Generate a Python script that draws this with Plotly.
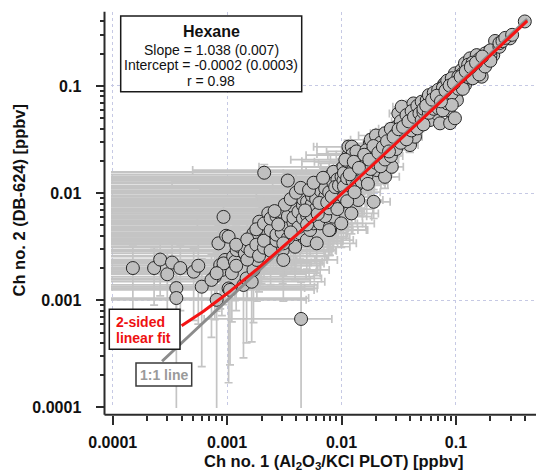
import plotly.graph_objects as go

FONT = "Liberation Sans, Arial, Helvetica, sans-serif"
W, H = 536, 474

# Hexane mixing ratios [ppbv] on channel 1 (Al2O3/KCl PLOT) and channel 2 (DB-624),
# with the 1-sigma uncertainty of each value, grouped by concentration range.

# lowest values, near the detection limit
low_ch1 = [0.00015, 0.00023, 0.00026, 0.00030, 0.00033, 0.00039, 0.00036, 0.00036, 0.00051, 0.00056,
           0.00060, 0.00093, 0.00084, 0.00078, 0.00073, 0.00081, 0.00087, 0.00090, 0.00096, 0.00093,
           0.00081]
low_ch2 = [0.0020, 0.0020, 0.0024, 0.00175, 0.00225, 0.0020, 0.0013, 0.00105, 0.00185, 0.0021,
           0.00134, 0.0060, 0.0034, 0.00166, 0.00155, 0.00101, 0.00213, 0.00192, 0.00238, 0.00221,
           0.00179]
low_ch1_err = [0.0035, 0.0042, 0.0038, 0.0046, 0.0051, 0.0036, 0.0044, 0.0048, 0.0055, 0.0047,
               0.0052, 0.0062, 0.0058, 0.0050, 0.0046, 0.0041, 0.0057, 0.0053, 0.0049, 0.0061,
               0.0044]
low_ch2_err = [0.0012, 0.0011, 0.0013, 0.0010, 0.0012, 0.0012, 0.0009, 0.0011, 0.0012, 0.0015,
               0.0011, 0.0022, 0.0016, 0.0010, 0.0011, 0.0011, 0.0013, 0.0012, 0.0014, 0.0013,
               0.0010]

# 1-3 pptv
ppt1_ch1 = [0.00098, 0.00103, 0.00110, 0.00103, 0.00106, 0.00113, 0.00117, 0.00121, 0.00130, 0.00139,
            0.00143, 0.00148, 0.00148, 0.00164, 0.00170, 0.00170, 0.00182, 0.00191, 0.00194, 0.00200,
            0.00211, 0.00222, 0.00229, 0.00229, 0.00254, 0.00254, 0.00271, 0.00290, 0.00306, 0.00310,
            0.0012, 0.0012, 0.0015, 0.0015, 0.0016, 0.0018, 0.0018, 0.0019, 0.0021, 0.0021,
            0.0021, 0.0024, 0.0024, 0.0024, 0.0027, 0.0027, 0.0027]
ppt1_ch2 = [0.00400, 0.00392, 0.00179, 0.00129, 0.00125, 0.00255, 0.00229, 0.00294, 0.00316, 0.00139,
            0.00274, 0.00316, 0.00160, 0.00149, 0.00192, 0.00422, 0.00238, 0.00541, 0.00284, 0.00294,
            0.01550, 0.00406, 0.00648, 0.00422, 0.00561, 0.00340, 0.00453, 0.00470, 0.00294, 0.00238,
            0.0021, 0.0033, 0.0024, 0.0037, 0.0029, 0.0033, 0.0046, 0.0026, 0.0031, 0.0036,
            0.0052, 0.0029, 0.0045, 0.0058, 0.0036, 0.0061, 0.0041]
ppt1_ch1_err = [0.0064, 0.0059, 0.0054, 0.0051, 0.0047, 0.0060, 0.0056, 0.0066, 0.0062, 0.0048,
                0.0058, 0.0070, 0.0052, 0.0055, 0.0061, 0.0068, 0.0057, 0.0074, 0.0063, 0.0069,
                0.0056, 0.0072, 0.0065, 0.0060, 0.0078, 0.0067, 0.0071, 0.0064, 0.0058, 0.0061,
                0.0053, 0.0065, 0.0059, 0.0071, 0.0054, 0.0067, 0.0075, 0.0058, 0.0062, 0.0070,
                0.0079, 0.0066, 0.0073, 0.0068, 0.0076, 0.0081, 0.0063]
ppt1_ch2_err = [0.0018, 0.0017, 0.00116, 0.00112, 0.0010, 0.0014, 0.0013, 0.0015, 0.0016, 0.0011,
                0.0014, 0.0016, 0.0012, 0.00108, 0.0013, 0.0019, 0.0014, 0.0021, 0.0015, 0.0015,
                0.0030, 0.0018, 0.0023, 0.0019, 0.0021, 0.0016, 0.0019, 0.0020, 0.0015, 0.0014,
                0.0013, 0.0016, 0.0014, 0.0017, 0.0015, 0.0016, 0.0020, 0.0014, 0.0015, 0.0017,
                0.0021, 0.0015, 0.0019, 0.0022, 0.0017, 0.0023, 0.0018]

# 3-10 pptv
ppt3_ch1 = [0.00321, 0.00332, 0.00339, 0.00355, 0.00367, 0.00379, 0.00393, 0.00406, 0.00419, 0.00434,
            0.00434, 0.00443, 0.00497, 0.00497, 0.00531, 0.00567, 0.00567, 0.00607, 0.00607, 0.00649,
            0.00694, 0.00743, 0.00743, 0.00793, 0.00793, 0.00848, 0.00848, 0.00908, 0.0097, 0.0097,
            0.00995, 0.0078,
            0.0030, 0.0030, 0.0030, 0.0034, 0.0034, 0.0034, 0.0038, 0.0038, 0.0038, 0.0042,
            0.0042, 0.0042, 0.0046, 0.0046, 0.0046, 0.0050, 0.0050, 0.0050, 0.0055, 0.0055,
            0.0055, 0.0060, 0.0060, 0.0060, 0.0066, 0.0066, 0.0066, 0.0072, 0.0072, 0.0072,
            0.0078, 0.0078, 0.0078, 0.0085, 0.0085, 0.0085, 0.0092, 0.0092, 0.0092,
            0.0032, 0.0036, 0.0040, 0.0044, 0.0048, 0.0052, 0.0057, 0.0062, 0.0064, 0.0069,
            0.0075, 0.0082, 0.0088, 0.0095, 0.0028, 0.0026, 0.0031, 0.0036]
ppt3_ch2 = [0.00582, 0.00352, 0.0131, 0.00470, 0.00671, 0.00392, 0.00316, 0.00804, 0.00830, 0.00453,
            0.00422, 0.00067, 0.0103, 0.00365, 0.00453, 0.00522, 0.00695, 0.00340, 0.00995, 0.00522,
            0.00804, 0.0128, 0.0137, 0.00453, 0.00486, 0.00603, 0.0107, 0.0148, 0.0080, 0.0164,
            0.00522, 0.00452,
            0.0043, 0.0055, 0.0067, 0.0049, 0.0061, 0.0038, 0.0053, 0.0075, 0.0059, 0.0048,
            0.0067, 0.0092, 0.0058, 0.0077, 0.0088, 0.0062, 0.0083, 0.0051, 0.0079, 0.0095,
            0.0061, 0.0072, 0.0116, 0.0088, 0.0068, 0.0105, 0.0127, 0.0093, 0.0111, 0.0061,
            0.0102, 0.0142, 0.0072, 0.0085, 0.0124, 0.0158, 0.0099, 0.0134, 0.0071,
            0.0078, 0.0088, 0.0101, 0.0112, 0.0069, 0.0107, 0.0125, 0.0064, 0.0081, 0.0139,
            0.0082, 0.0093, 0.0114, 0.0118, 0.0051, 0.0068, 0.0034, 0.0043]
ppt3_ch1_err = [0.0083, 0.0069, 0.0062, 0.0080, 0.0085, 0.0072, 0.0079, 0.0088, 0.0076, 0.0082,
                0.0070, 0.0038, 0.0090, 0.0077, 0.0086, 0.0081, 0.0093, 0.0074, 0.0095, 0.0088,
                0.0097, 0.0071, 0.0102, 0.0090, 0.0084, 0.0099, 0.0079, 0.0105, 0.0101, 0.0092,
                0.0094, 0.0087,
                0.0074, 0.0069, 0.0082, 0.0078, 0.0066, 0.0084, 0.0071, 0.0089, 0.0077, 0.0083,
                0.0075, 0.0091, 0.0086, 0.0079, 0.0094, 0.0080, 0.0096, 0.0073, 0.0088, 0.0082,
                0.0097, 0.0085, 0.0100, 0.0078, 0.0092, 0.0087, 0.0068, 0.0099, 0.0083, 0.0094,
                0.0104, 0.0090, 0.0088, 0.0098, 0.0108, 0.0094, 0.0100, 0.0111, 0.0096,
                0.0079, 0.0086, 0.0092, 0.0081, 0.0087, 0.0090, 0.0079, 0.0091, 0.0097, 0.0084,
                0.0101, 0.0095, 0.0103, 0.0099, 0.0072, 0.0083, 0.0068, 0.0074]
ppt3_ch2_err = [0.0022, 0.0017, 0.0028, 0.0019, 0.0024, 0.0018, 0.0016, 0.0026, 0.0026, 0.0019,
                0.0018, 0.0008, 0.0027, 0.0017, 0.0019, 0.0021, 0.0024, 0.0017, 0.0027, 0.0021,
                0.0025, 0.0030, 0.0031, 0.0019, 0.0020, 0.0022, 0.0028, 0.0032, 0.0025, 0.0033,
                0.0021, 0.0019,
                0.0019, 0.0021, 0.0024, 0.0020, 0.0023, 0.0018, 0.0021, 0.0025, 0.0022, 0.0020,
                0.0024, 0.0027, 0.0022, 0.0025, 0.0026, 0.0022, 0.0026, 0.0020, 0.0025, 0.0027,
                0.0022, 0.0024, 0.0029, 0.0026, 0.0023, 0.0028, 0.0030, 0.0026, 0.0029, 0.0022,
                0.0028, 0.0031, 0.0024, 0.0025, 0.0030, 0.0033, 0.0027, 0.0031, 0.0024,
                0.0025, 0.0026, 0.0028, 0.0029, 0.0024, 0.0028, 0.0030, 0.0023, 0.0025, 0.0031,
                0.0025, 0.0026, 0.0029, 0.0029, 0.0020, 0.0024, 0.0017, 0.0019]

# 10-50 pptv
ppt10_ch1 = [0.0100, 0.0104, 0.0104, 0.0111, 0.0115, 0.0115, 0.0119, 0.0122, 0.0123, 0.0140,
             0.0145, 0.0145, 0.0155, 0.0177, 0.0184, 0.0191, 0.0203, 0.0217, 0.0232, 0.0232,
             0.0240, 0.0257, 0.0265, 0.0275, 0.0294, 0.0304, 0.0314, 0.0336, 0.0359, 0.0372,
             0.0397, 0.0425, 0.0439, 0.0454, 0.0469,
             0.0105, 0.0105, 0.0105, 0.0112, 0.0112, 0.0112, 0.0125, 0.0125, 0.0125, 0.0135,
             0.0135, 0.0135, 0.0150, 0.0150, 0.0150, 0.0165, 0.0165, 0.0165, 0.0180, 0.0180,
             0.0180, 0.0200, 0.0200, 0.0200, 0.0220, 0.0220, 0.0220, 0.0240, 0.0240, 0.0240,
             0.0270, 0.0270, 0.0270, 0.0300, 0.0300, 0.0300, 0.0330, 0.0330, 0.0330, 0.0370,
             0.0370, 0.0370, 0.0410, 0.0410, 0.0410, 0.0460, 0.0460, 0.0460,
             0.0108, 0.0118, 0.0128, 0.0130, 0.0142, 0.0158, 0.0170, 0.0175, 0.0190, 0.0210,
             0.0230, 0.0250, 0.0260, 0.0285, 0.0315, 0.0345, 0.0385, 0.0430, 0.0480]
ppt10_ch2 = [0.0142, 0.0176, 0.0132, 0.0123, 0.0226, 0.0271, 0.0176, 0.00647, 0.0271, 0.00862,
             0.0226, 0.0148, 0.0176, 0.0291, 0.0219, 0.0083, 0.0164, 0.0271, 0.0324, 0.0204,
             0.0142, 0.0373, 0.0335, 0.0176, 0.0271, 0.0416, 0.0554, 0.0640, 0.0481, 0.0387,
             0.0281, 0.0687, 0.0336, 0.0448, 0.0595,
             0.0115, 0.0154, 0.0092, 0.0198, 0.0138, 0.0084, 0.0131, 0.0162, 0.0232, 0.0118,
             0.0189, 0.0245, 0.0161, 0.0205, 0.0128, 0.0194, 0.0252, 0.0141, 0.0168, 0.0237,
             0.0315, 0.0192, 0.0262, 0.0345, 0.0215, 0.0296, 0.0178, 0.0251, 0.0362, 0.0206,
             0.0285, 0.0398, 0.0222, 0.0312, 0.0356, 0.0258, 0.0371, 0.0468, 0.0295, 0.0425,
             0.0535, 0.0318, 0.0462, 0.0385, 0.0582, 0.0528, 0.0402, 0.0651,
             0.0205, 0.0150, 0.0196, 0.0102, 0.0172, 0.0228, 0.0122, 0.0205, 0.0275, 0.0238,
             0.0270, 0.0305, 0.0245, 0.0335, 0.0395, 0.0415, 0.0468, 0.0515, 0.0555]
ppt10_ch1_err = [0.0078, 0.0085, 0.0072, 0.0081, 0.0066, 0.0058, 0.0074, 0.0088, 0.0062, 0.0090,
                 0.0069, 0.0083, 0.0077, 0.0071, 0.0079, 0.0075, 0.0082, 0.0068, 0.0064, 0.0076,
                 0.0080, 0.0058, 0.0063, 0.0072, 0.0066, 0.0057, 0.0052, 0.0055, 0.0060, 0.0064,
                 0.0070, 0.0058, 0.0068, 0.0063, 0.0061,
                 0.0080, 0.0074, 0.0087, 0.0067, 0.0079, 0.0091, 0.0083, 0.0076, 0.0064, 0.0086,
                 0.0072, 0.0061, 0.0078, 0.0070, 0.0085, 0.0073, 0.0065, 0.0082, 0.0080, 0.0069,
                 0.0060, 0.0077, 0.0067, 0.0059, 0.0074, 0.0065, 0.0079, 0.0070, 0.0061, 0.0076,
                 0.0067, 0.0059, 0.0073, 0.0064, 0.0060, 0.0069, 0.0062, 0.0056, 0.0066, 0.0060,
                 0.0055, 0.0065, 0.0059, 0.0063, 0.0054, 0.0057, 0.0062, 0.0053,
                 0.0072, 0.0078, 0.0070, 0.0088, 0.0076, 0.0068, 0.0084, 0.0074, 0.0066, 0.0071,
                 0.0068, 0.0065, 0.0069, 0.0062, 0.0059, 0.0058, 0.0057, 0.0055, 0.0054]
ppt10_ch2_err = [0.0031, 0.0035, 0.0030, 0.0029, 0.0038, 0.0041, 0.0034, 0.0023, 0.0041, 0.0025,
                 0.0037, 0.0032, 0.0034, 0.0042, 0.0037, 0.0025, 0.0033, 0.0040, 0.0044, 0.0036,
                 0.0031, 0.0047, 0.0045, 0.0034, 0.0040, 0.0050, 0.0058, 0.0064, 0.0054, 0.0048,
                 0.0041, 0.0066, 0.0044, 0.0051, 0.0060,
                 0.0029, 0.0032, 0.0027, 0.0036, 0.0031, 0.0025, 0.0030, 0.0033, 0.0038, 0.0029,
                 0.0035, 0.0039, 0.0033, 0.0036, 0.0030, 0.0035, 0.0039, 0.0031, 0.0034, 0.0038,
                 0.0043, 0.0035, 0.0039, 0.0045, 0.0036, 0.0041, 0.0034, 0.0038, 0.0046, 0.0036,
                 0.0040, 0.0048, 0.0036, 0.0042, 0.0045, 0.0039, 0.0046, 0.0053, 0.0041, 0.0050,
                 0.0057, 0.0043, 0.0052, 0.0048, 0.0059, 0.0056, 0.0049, 0.0064,
                 0.0036, 0.0032, 0.0035, 0.0027, 0.0034, 0.0038, 0.0030, 0.0036, 0.0040, 0.0038,
                 0.0040, 0.0042, 0.0038, 0.0045, 0.0048, 0.0049, 0.0053, 0.0055, 0.0057]

# above 50 pptv
high_ch1 = [0.0502, 0.0502, 0.0556, 0.0594, 0.0594, 0.0679, 0.0726, 0.0726, 0.0776, 0.0780,
            0.0803, 0.0859, 0.0888, 0.0890, 0.0980, 0.0980, 0.1000, 0.1020, 0.1120, 0.1200,
            0.1200, 0.1330, 0.1520, 0.1520, 0.1680, 0.1740, 0.1920, 0.2120, 0.2200, 0.2970,
            0.4000,
            0.052, 0.052, 0.052, 0.058, 0.058, 0.058, 0.064, 0.064, 0.064, 0.070,
            0.070, 0.070, 0.077, 0.077, 0.077, 0.084, 0.084, 0.084, 0.092, 0.092,
            0.092, 0.105, 0.105, 0.105, 0.115, 0.115, 0.115, 0.128, 0.128, 0.128,
            0.140, 0.140, 0.140, 0.160, 0.160, 0.160, 0.180, 0.180, 0.180, 0.200,
            0.200, 0.200, 0.240, 0.240, 0.255, 0.270, 0.310,
            0.055, 0.062, 0.068, 0.074, 0.081, 0.088, 0.096, 0.110, 0.122, 0.135,
            0.150, 0.170]
high_ch2 = [0.0481, 0.0713, 0.0738, 0.0481, 0.0738, 0.0554, 0.0448, 0.0883, 0.0687, 0.1020,
            0.1060, 0.0595, 0.0916, 0.0450, 0.0500, 0.1310, 0.0790, 0.0738, 0.1410, 0.1630,
            0.1020, 0.1810, 0.1940, 0.1460, 0.1220, 0.1630, 0.2080, 0.1940, 0.2630, 0.2780,
            0.4000,
            0.0571, 0.0612, 0.0438, 0.0648, 0.0562, 0.0821, 0.0705, 0.0612, 0.0865, 0.0768,
            0.0921, 0.0622, 0.0835, 0.0592, 0.0962, 0.0775, 0.0688, 0.1120, 0.0854, 0.1180,
            0.0665, 0.0942, 0.1220, 0.1120, 0.1070, 0.1310, 0.0940, 0.1210, 0.1480, 0.1580,
            0.1310, 0.1650, 0.1180, 0.1480, 0.1780, 0.1280, 0.1710, 0.2010, 0.1520, 0.1920,
            0.2150, 0.1720, 0.2320, 0.2510, 0.2620, 0.2810, 0.3000,
            0.0655, 0.0745, 0.0810, 0.0718, 0.0905, 0.1010, 0.1060, 0.1220, 0.1370, 0.1500,
            0.1650, 0.1880]
high_ch1_err = [0.0050, 0.0046, 0.0050, 0.0056, 0.0052, 0.0060, 0.0066, 0.0061, 0.0067, 0.0064,
                0.0066, 0.0074, 0.0073, 0.0078, 0.0084, 0.0079, 0.0085, 0.0087, 0.0091, 0.0097,
                0.0100, 0.0107, 0.0121, 0.0125, 0.0137, 0.0140, 0.0153, 0.0168, 0.0172, 0.0230,
                0.0305,
                0.0047, 0.0047, 0.0049, 0.0051, 0.0053, 0.0049, 0.0056, 0.0058, 0.0054, 0.0060,
                0.0058, 0.0062, 0.0065, 0.0068, 0.0063, 0.0071, 0.0073, 0.0069, 0.0077, 0.0074,
                0.0080, 0.0087, 0.0084, 0.0086, 0.0094, 0.0091, 0.0096, 0.0104, 0.0101, 0.0100,
                0.0113, 0.0110, 0.0115, 0.0128, 0.0125, 0.0131, 0.0144, 0.0141, 0.0147, 0.0159,
                0.0157, 0.0162, 0.0189, 0.0187, 0.0199, 0.0210, 0.0240,
                0.0049, 0.0054, 0.0058, 0.0063, 0.0068, 0.0074, 0.0080, 0.0090, 0.0099, 0.0109,
                0.0120, 0.0136]
high_ch2_err = [0.0048, 0.0062, 0.0064, 0.0048, 0.0064, 0.0053, 0.0046, 0.0075, 0.0062, 0.0086,
                0.0089, 0.0057, 0.0079, 0.0046, 0.0049, 0.0110, 0.0071, 0.0067, 0.0118, 0.0135,
                0.0089, 0.0150, 0.0160, 0.0124, 0.0105, 0.0137, 0.0172, 0.0161, 0.0215, 0.0228,
                0.0325,
                0.0052, 0.0055, 0.0045, 0.0058, 0.0052, 0.0069, 0.0061, 0.0055, 0.0073, 0.0066,
                0.0078, 0.0056, 0.0071, 0.0055, 0.0081, 0.0068, 0.0062, 0.0094, 0.0073, 0.0099,
                0.0061, 0.0080, 0.0102, 0.0094, 0.0090, 0.0110, 0.0081, 0.0101, 0.0123, 0.0131,
                0.0109, 0.0137, 0.0100, 0.0123, 0.0147, 0.0108, 0.0142, 0.0166, 0.0127, 0.0159,
                0.0177, 0.0143, 0.0191, 0.0206, 0.0215, 0.0230, 0.0245,
                0.0059, 0.0065, 0.0070, 0.0065, 0.0078, 0.0086, 0.0090, 0.0102, 0.0114, 0.0125,
                0.0137, 0.0155]

# 2-sided fit: Ch no. 1 = slope * Ch no. 2 + intercept (1-sigma in parentheses)
fit_slope, fit_slope_unc = 1.038, 0.007
fit_intercept, fit_intercept_unc = -0.0002, 0.0003
fit_r = 0.98
fit_ch1_span = (0.0004, 0.42)
one_to_one_span = (0.00027, 0.42)

decade_vals = [0.0001, 0.001, 0.01, 0.1]
decade_text = ["0.0001", "0.001", "0.01", "0.1"]

ch1 = low_ch1 + ppt1_ch1 + ppt3_ch1 + ppt10_ch1 + high_ch1
ch2 = low_ch2 + ppt1_ch2 + ppt3_ch2 + ppt10_ch2 + high_ch2
ch1_err = low_ch1_err + ppt1_ch1_err + ppt3_ch1_err + ppt10_ch1_err + high_ch1_err
ch2_err = low_ch2_err + ppt1_ch2_err + ppt3_ch2_err + ppt10_ch2_err + high_ch2_err
assert len(ch1) == len(ch2) == len(ch1_err) == len(ch2_err)


def fx(px):
    return px / W


def fy(py):
    return 1 - py / H


def geom(lo, hi, n=200):
    return [lo * (hi / lo) ** (i / (n - 1)) for i in range(n)]


fit_x = geom(*fit_ch1_span)
fit_y = [(v - fit_intercept) / fit_slope for v in fit_x]
one_x = list(one_to_one_span)

minor_x = [m * d for d in decade_vals for m in range(2, 10) if m * d < 0.5]
minor_y = [m * d for d in decade_vals for m in range(2, 10) if m * d < 0.49]

AXIS_COLOR = "#2b2b2b"
BAR_COLOR = "#c4c4c4"

fig = go.Figure()
fig.add_trace(go.Scatter(
    x=ch1, y=ch2, mode="markers",
    marker=dict(size=13, color="#bfbfbf", line=dict(color="#262626", width=1)),
    error_x=dict(type="data", array=ch1_err, symmetric=True, color=BAR_COLOR, thickness=1.7, width=4),
    error_y=dict(type="data", array=ch2_err, symmetric=True, color=BAR_COLOR, thickness=1.7, width=4),
    hoverinfo="skip",
))
fig.add_trace(go.Scatter(x=one_x, y=one_x, mode="lines",
                         line=dict(color="#8c8c8c", width=3), hoverinfo="skip"))
fig.add_trace(go.Scatter(x=fit_x, y=fit_y, mode="lines",
                         line=dict(color="#f41414", width=3), hoverinfo="skip"))

tickfont = dict(family=FONT, size=16, color="#111111", weight="bold")
common = dict(
    type="log", showline=False, zeroline=False, automargin=False,
    showgrid=True, gridcolor="#c6c9e4", griddash="dot", gridwidth=1,
    tickmode="array", tickvals=decade_vals, ticktext=decade_text,
    ticks="outside", ticklen=9, tickwidth=1.5, tickcolor=AXIS_COLOR,
    tickfont=tickfont, anchor="free",
)
fig.update_layout(
    width=W, height=H, autosize=False,
    margin=dict(l=0, r=0, t=0, b=0, pad=0, autoexpand=False),
    paper_bgcolor="white", plot_bgcolor="white", showlegend=False,
    xaxis=dict(common, range=[-4.015, -0.30], domain=[fx(111), 1.0],
               position=fy(414.7), ticklabelstandoff=4,
               minor=dict(tickmode="array", tickvals=minor_x, ticks="outside", ticklen=5,
                          tickwidth=1.5, tickcolor=AXIS_COLOR, showgrid=False)),
    yaxis=dict(common, range=[-4.005, -0.307], domain=[fy(408), fy(11.7)],
               position=fx(104.5), ticklabelstandoff=11,
               minor=dict(tickmode="array", tickvals=minor_y, ticks="outside", ticklen=5,
                          tickwidth=1.5, tickcolor=AXIS_COLOR, showgrid=False)),
)

shapes = [
    # axis lines, set slightly off the data area
    dict(type="line", xref="paper", yref="paper", x0=fx(104.5), x1=fx(104.5),
         y0=fy(414.7), y1=fy(11.7), line=dict(color=AXIS_COLOR, width=2)),
    dict(type="line", xref="paper", yref="paper", x0=fx(104.5), x1=1.0,
         y0=fy(414.7), y1=fy(414.7), line=dict(color=AXIS_COLOR, width=2)),
    # fit summary box
    dict(type="rect", xref="paper", yref="paper", x0=fx(120.7), x1=fx(301.7),
         y0=fy(91.7), y1=fy(16), fillcolor="white", line=dict(color="#1a1a1a", width=1.5), layer="above"),
    # line labels
    dict(type="rect", xref="paper", yref="paper", x0=fx(109.3), x1=fx(180),
         y0=fy(349.3), y1=fy(309.3), fillcolor="white", line=dict(color="#1a1a1a", width=1.5), layer="above"),
    dict(type="rect", xref="paper", yref="paper", x0=fx(136), x1=fx(191.7),
         y0=fy(386), y1=fy(363), fillcolor="white", line=dict(color="#3a3a3a", width=1.5), layer="above"),
]
fig.update_layout(shapes=shapes)


def note(text, px, py, size=14, color="#111111", bold=False, anchor="center", angle=0):
    fig.add_annotation(
        text=text, x=fx(px), y=fy(py), xref="paper", yref="paper",
        xanchor=anchor, yanchor="middle", showarrow=False, textangle=angle,
        font=dict(family=FONT, size=size, color=color, weight="bold" if bold else "normal"),
    )


cx = (120.7 + 301.7) / 2
note("Hexane", cx, 31.7, size=16, bold=True)
note(f"Slope = {fit_slope:.3f} ({fit_slope_unc:.3f})", cx, 50)
note(f"Intercept = {fit_intercept:.4f} ({fit_intercept_unc:.4f})", cx, 65.3)
note(f"r = {fit_r:.2f}", cx, 80.7)

note("2-sided", 114, 321.7, color="#ee1111", bold=True, anchor="left")
note("linear fit", 114, 337.7, color="#ee1111", bold=True, anchor="left")
note("1:1 line", 164, 375, color="#9a9a9a", bold=True)

note("Ch no. 1 (Al<sub>2</sub>O<sub>3</sub>/KCl PLOT) [ppbv]", 333, 462, size=16.5, bold=True)
note("Ch no. 2 (DB-624) [ppbv]", 18.5, 200, size=16.5, bold=True, angle=-90)

fig.write_html("out.html")
